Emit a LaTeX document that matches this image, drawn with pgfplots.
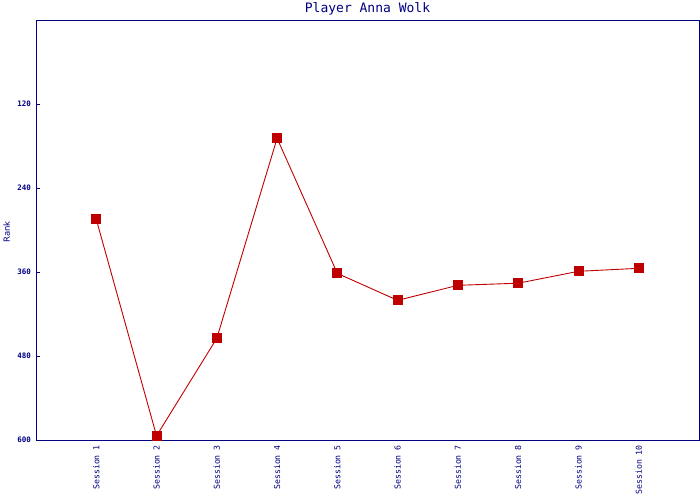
\documentclass[border=0pt]{standalone}
\usepackage{fontspec}
\setmainfont{DejaVu Sans}
\setmonofont{DejaVu Sans Mono}
\usepackage{pgfplots}
\pgfplotsset{compat=1.18}
\definecolor{navy}{RGB}{0,0,128}
\definecolor{linered}{RGB}{192,0,0}
\begin{document}
\begin{tikzpicture}[x=1pt,y=1pt]
\useasboundingbox (-36,-60) rectangle (664,440);
\begin{axis}[
  at={(0,0)}, anchor=south west,
  scale only axis, width=663pt, height=420pt,
  xmin=0, xmax=11, ymin=0, ymax=600, y dir=reverse,
  axis line style={navy, line width=0.9pt},
  xtick={1,...,10},
  xticklabels={Session 1,Session 2,Session 3,Session 4,Session 5,Session 6,Session 7,Session 8,Session 9,Session 10},
  x tick label style={rotate=90, anchor=east, font=\ttfamily\fontsize{8.2}{9}\selectfont, text=navy, inner sep=1pt, xshift=-4pt},
  xtick style={draw=none},
  ytick={120,240,360,480,600},
  y tick label style={font=\ttfamily\bfseries\fontsize{7.5}{8}\selectfont, text=navy, inner sep=1pt, xshift=-4pt},
  ytick style={navy, line width=0.8pt},
  tick align=inside, major tick length=4pt,
  ytick pos=left,
  /pgf/number format/assume math mode=true,
  ylabel={Rank},
  every axis y label/.style={at={(axis description cs:-0.044,0.495)}, rotate=90, anchor=center, font=\fontsize{8.5}{10}\selectfont, text=navy},
  title={Player Anna Wolk}, title style={font=\ttfamily\fontsize{13}{14}\selectfont, text=navy, yshift=-5pt},
  clip=false,
]
\addplot[linered, line width=0.9pt, mark=square*, mark size=4.5pt, mark options={fill=linered, draw=linered}]
coordinates {(1,284.7) (2,594) (3,454.7) (4,169) (5,362) (6,400.5) (7,379) (8,376) (9,359) (10,354.7)};
\end{axis}
\end{tikzpicture}
\end{document}
